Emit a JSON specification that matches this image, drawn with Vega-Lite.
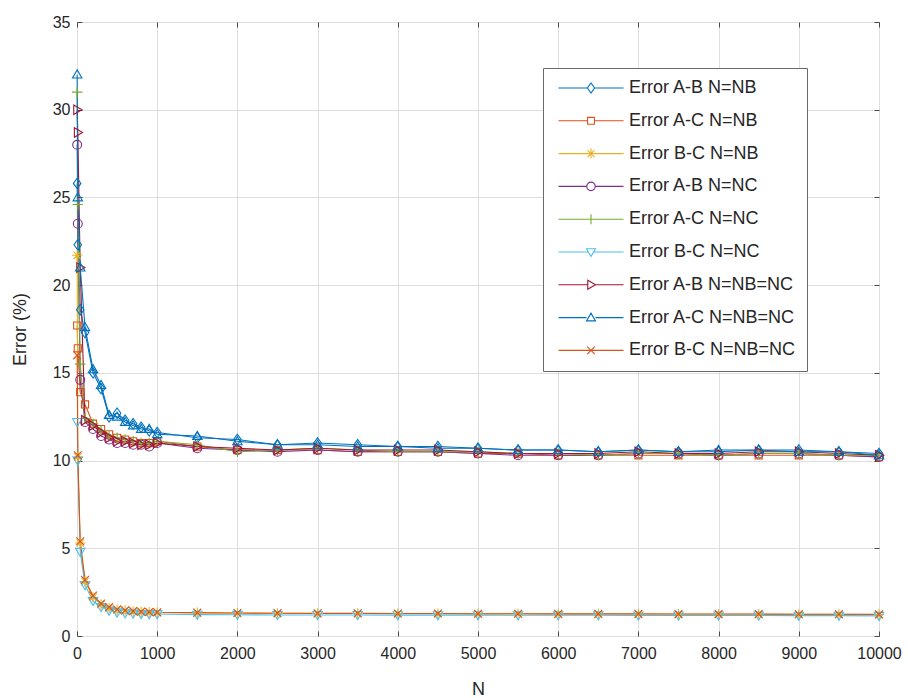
{
"$schema": "https://vega.github.io/schema/vega-lite/v6.json",
"width": 802, "height": 614,
"autosize": {"type": "none"},
"padding": {"left": 77, "top": 22, "right": 29, "bottom": 62},
"background": "white",
"config": {
  "font": "Liberation Sans",
  "view": {"stroke": "#6a6a6a", "strokeWidth": 1},
  "axis": {"domain": false, "tickColor": "#4a4a4a", "tickWidth": 1, "tickSize": -5, "labelColor": "#262626", "labelFontSize": 16, "titleColor": "#262626", "titleFontSize": 18, "titleFontWeight": "normal", "gridColor": "#dedede", "labelFlush": false, "labelOverlap": false},
  "legend": {"labelFont": "Liberation Sans"}
},
"data": {"values": [
{"series":"Error A-B N=NB","N":2,"error":25.8},{"series":"Error A-B N=NB","N":10,"error":22.3},{"series":"Error A-B N=NB","N":40,"error":18.6},{"series":"Error A-B N=NB","N":100,"error":17.3},{"series":"Error A-B N=NB","N":200,"error":15.0},{"series":"Error A-B N=NB","N":300,"error":14.1},{"series":"Error A-B N=NB","N":400,"error":12.5},{"series":"Error A-B N=NB","N":500,"error":12.7},{"series":"Error A-B N=NB","N":600,"error":12.3},{"series":"Error A-B N=NB","N":700,"error":12.1},{"series":"Error A-B N=NB","N":800,"error":11.9},{"series":"Error A-B N=NB","N":900,"error":11.7},{"series":"Error A-B N=NB","N":1000,"error":11.6},{"series":"Error A-B N=NB","N":1500,"error":11.3},{"series":"Error A-B N=NB","N":2000,"error":11.2},{"series":"Error A-B N=NB","N":2500,"error":10.9},{"series":"Error A-B N=NB","N":3000,"error":11.0},{"series":"Error A-B N=NB","N":3500,"error":10.9},{"series":"Error A-B N=NB","N":4000,"error":10.8},{"series":"Error A-B N=NB","N":4500,"error":10.8},{"series":"Error A-B N=NB","N":5000,"error":10.7},{"series":"Error A-B N=NB","N":5500,"error":10.6},{"series":"Error A-B N=NB","N":6000,"error":10.6},{"series":"Error A-B N=NB","N":6500,"error":10.5},{"series":"Error A-B N=NB","N":7000,"error":10.6},{"series":"Error A-B N=NB","N":7500,"error":10.5},{"series":"Error A-B N=NB","N":8000,"error":10.5},{"series":"Error A-B N=NB","N":8500,"error":10.6},{"series":"Error A-B N=NB","N":9000,"error":10.6},{"series":"Error A-B N=NB","N":9500,"error":10.5},{"series":"Error A-B N=NB","N":10000,"error":10.4},
{"series":"Error A-C N=NB","N":2,"error":17.7},{"series":"Error A-C N=NB","N":10,"error":16.4},{"series":"Error A-C N=NB","N":40,"error":13.9},{"series":"Error A-C N=NB","N":100,"error":13.2},{"series":"Error A-C N=NB","N":200,"error":12.1},{"series":"Error A-C N=NB","N":300,"error":11.8},{"series":"Error A-C N=NB","N":400,"error":11.5},{"series":"Error A-C N=NB","N":500,"error":11.3},{"series":"Error A-C N=NB","N":600,"error":11.2},{"series":"Error A-C N=NB","N":700,"error":11.1},{"series":"Error A-C N=NB","N":800,"error":11.0},{"series":"Error A-C N=NB","N":900,"error":11.0},{"series":"Error A-C N=NB","N":1000,"error":11.1},{"series":"Error A-C N=NB","N":1500,"error":10.8},{"series":"Error A-C N=NB","N":2000,"error":10.6},{"series":"Error A-C N=NB","N":2500,"error":10.6},{"series":"Error A-C N=NB","N":3000,"error":10.6},{"series":"Error A-C N=NB","N":3500,"error":10.5},{"series":"Error A-C N=NB","N":4000,"error":10.5},{"series":"Error A-C N=NB","N":4500,"error":10.5},{"series":"Error A-C N=NB","N":5000,"error":10.4},{"series":"Error A-C N=NB","N":5500,"error":10.4},{"series":"Error A-C N=NB","N":6000,"error":10.3},{"series":"Error A-C N=NB","N":6500,"error":10.3},{"series":"Error A-C N=NB","N":7000,"error":10.3},{"series":"Error A-C N=NB","N":7500,"error":10.3},{"series":"Error A-C N=NB","N":8000,"error":10.3},{"series":"Error A-C N=NB","N":8500,"error":10.3},{"series":"Error A-C N=NB","N":9000,"error":10.3},{"series":"Error A-C N=NB","N":9500,"error":10.3},{"series":"Error A-C N=NB","N":10000,"error":10.2},
{"series":"Error B-C N=NB","N":2,"error":21.7},{"series":"Error B-C N=NB","N":10,"error":10.2},{"series":"Error B-C N=NB","N":40,"error":5.3},{"series":"Error B-C N=NB","N":100,"error":3.1},{"series":"Error B-C N=NB","N":200,"error":2.2},{"series":"Error B-C N=NB","N":300,"error":1.8},{"series":"Error B-C N=NB","N":400,"error":1.6},{"series":"Error B-C N=NB","N":500,"error":1.5},{"series":"Error B-C N=NB","N":600,"error":1.45},{"series":"Error B-C N=NB","N":700,"error":1.4},{"series":"Error B-C N=NB","N":800,"error":1.38},{"series":"Error B-C N=NB","N":900,"error":1.36},{"series":"Error B-C N=NB","N":1000,"error":1.34},{"series":"Error B-C N=NB","N":1500,"error":1.32},{"series":"Error B-C N=NB","N":2000,"error":1.3},{"series":"Error B-C N=NB","N":2500,"error":1.29},{"series":"Error B-C N=NB","N":3000,"error":1.28},{"series":"Error B-C N=NB","N":3500,"error":1.28},{"series":"Error B-C N=NB","N":4000,"error":1.27},{"series":"Error B-C N=NB","N":4500,"error":1.27},{"series":"Error B-C N=NB","N":5000,"error":1.26},{"series":"Error B-C N=NB","N":5500,"error":1.26},{"series":"Error B-C N=NB","N":6000,"error":1.25},{"series":"Error B-C N=NB","N":6500,"error":1.25},{"series":"Error B-C N=NB","N":7000,"error":1.25},{"series":"Error B-C N=NB","N":7500,"error":1.24},{"series":"Error B-C N=NB","N":8000,"error":1.24},{"series":"Error B-C N=NB","N":8500,"error":1.24},{"series":"Error B-C N=NB","N":9000,"error":1.23},{"series":"Error B-C N=NB","N":9500,"error":1.23},{"series":"Error B-C N=NB","N":10000,"error":1.22},
{"series":"Error A-B N=NC","N":2,"error":28.0},{"series":"Error A-B N=NC","N":10,"error":23.5},{"series":"Error A-B N=NC","N":40,"error":14.6},{"series":"Error A-B N=NC","N":100,"error":12.2},{"series":"Error A-B N=NC","N":200,"error":11.8},{"series":"Error A-B N=NC","N":300,"error":11.4},{"series":"Error A-B N=NC","N":400,"error":11.2},{"series":"Error A-B N=NC","N":500,"error":11.0},{"series":"Error A-B N=NC","N":600,"error":11.0},{"series":"Error A-B N=NC","N":700,"error":10.9},{"series":"Error A-B N=NC","N":800,"error":10.9},{"series":"Error A-B N=NC","N":900,"error":10.8},{"series":"Error A-B N=NC","N":1000,"error":11.0},{"series":"Error A-B N=NC","N":1500,"error":10.7},{"series":"Error A-B N=NC","N":2000,"error":10.6},{"series":"Error A-B N=NC","N":2500,"error":10.5},{"series":"Error A-B N=NC","N":3000,"error":10.6},{"series":"Error A-B N=NC","N":3500,"error":10.5},{"series":"Error A-B N=NC","N":4000,"error":10.5},{"series":"Error A-B N=NC","N":4500,"error":10.5},{"series":"Error A-B N=NC","N":5000,"error":10.4},{"series":"Error A-B N=NC","N":5500,"error":10.3},{"series":"Error A-B N=NC","N":6000,"error":10.3},{"series":"Error A-B N=NC","N":6500,"error":10.3},{"series":"Error A-B N=NC","N":7000,"error":10.4},{"series":"Error A-B N=NC","N":7500,"error":10.4},{"series":"Error A-B N=NC","N":8000,"error":10.3},{"series":"Error A-B N=NC","N":8500,"error":10.4},{"series":"Error A-B N=NC","N":9000,"error":10.4},{"series":"Error A-B N=NC","N":9500,"error":10.3},{"series":"Error A-B N=NC","N":10000,"error":10.2},
{"series":"Error A-C N=NC","N":2,"error":31.0},{"series":"Error A-C N=NC","N":10,"error":24.6},{"series":"Error A-C N=NC","N":40,"error":15.5},{"series":"Error A-C N=NC","N":100,"error":12.4},{"series":"Error A-C N=NC","N":200,"error":12.1},{"series":"Error A-C N=NC","N":300,"error":11.7},{"series":"Error A-C N=NC","N":400,"error":11.4},{"series":"Error A-C N=NC","N":500,"error":11.3},{"series":"Error A-C N=NC","N":600,"error":11.2},{"series":"Error A-C N=NC","N":700,"error":11.1},{"series":"Error A-C N=NC","N":800,"error":11.0},{"series":"Error A-C N=NC","N":900,"error":11.0},{"series":"Error A-C N=NC","N":1000,"error":11.1},{"series":"Error A-C N=NC","N":1500,"error":10.9},{"series":"Error A-C N=NC","N":2000,"error":10.5},{"series":"Error A-C N=NC","N":2500,"error":10.6},{"series":"Error A-C N=NC","N":3000,"error":10.7},{"series":"Error A-C N=NC","N":3500,"error":10.6},{"series":"Error A-C N=NC","N":4000,"error":10.5},{"series":"Error A-C N=NC","N":4500,"error":10.5},{"series":"Error A-C N=NC","N":5000,"error":10.5},{"series":"Error A-C N=NC","N":5500,"error":10.4},{"series":"Error A-C N=NC","N":6000,"error":10.4},{"series":"Error A-C N=NC","N":6500,"error":10.3},{"series":"Error A-C N=NC","N":7000,"error":10.4},{"series":"Error A-C N=NC","N":7500,"error":10.4},{"series":"Error A-C N=NC","N":8000,"error":10.3},{"series":"Error A-C N=NC","N":8500,"error":10.4},{"series":"Error A-C N=NC","N":9000,"error":10.4},{"series":"Error A-C N=NC","N":9500,"error":10.3},{"series":"Error A-C N=NC","N":10000,"error":10.3},
{"series":"Error B-C N=NC","N":2,"error":12.2},{"series":"Error B-C N=NC","N":10,"error":10.0},{"series":"Error B-C N=NC","N":40,"error":4.8},{"series":"Error B-C N=NC","N":100,"error":2.9},{"series":"Error B-C N=NC","N":200,"error":2.0},{"series":"Error B-C N=NC","N":300,"error":1.65},{"series":"Error B-C N=NC","N":400,"error":1.45},{"series":"Error B-C N=NC","N":500,"error":1.35},{"series":"Error B-C N=NC","N":600,"error":1.3},{"series":"Error B-C N=NC","N":700,"error":1.28},{"series":"Error B-C N=NC","N":800,"error":1.26},{"series":"Error B-C N=NC","N":900,"error":1.25},{"series":"Error B-C N=NC","N":1000,"error":1.25},{"series":"Error B-C N=NC","N":1500,"error":1.22},{"series":"Error B-C N=NC","N":2000,"error":1.21},{"series":"Error B-C N=NC","N":2500,"error":1.2},{"series":"Error B-C N=NC","N":3000,"error":1.2},{"series":"Error B-C N=NC","N":3500,"error":1.2},{"series":"Error B-C N=NC","N":4000,"error":1.19},{"series":"Error B-C N=NC","N":4500,"error":1.19},{"series":"Error B-C N=NC","N":5000,"error":1.19},{"series":"Error B-C N=NC","N":5500,"error":1.18},{"series":"Error B-C N=NC","N":6000,"error":1.18},{"series":"Error B-C N=NC","N":6500,"error":1.18},{"series":"Error B-C N=NC","N":7000,"error":1.17},{"series":"Error B-C N=NC","N":7500,"error":1.17},{"series":"Error B-C N=NC","N":8000,"error":1.17},{"series":"Error B-C N=NC","N":8500,"error":1.17},{"series":"Error B-C N=NC","N":9000,"error":1.16},{"series":"Error B-C N=NC","N":9500,"error":1.16},{"series":"Error B-C N=NC","N":10000,"error":1.15},
{"series":"Error A-B N=NB=NC","N":2,"error":30.0},{"series":"Error A-B N=NB=NC","N":10,"error":28.7},{"series":"Error A-B N=NB=NC","N":40,"error":21.0},{"series":"Error A-B N=NB=NC","N":100,"error":12.3},{"series":"Error A-B N=NB=NC","N":200,"error":12.0},{"series":"Error A-B N=NB=NC","N":300,"error":11.6},{"series":"Error A-B N=NB=NC","N":400,"error":11.3},{"series":"Error A-B N=NB=NC","N":500,"error":11.1},{"series":"Error A-B N=NB=NC","N":600,"error":11.1},{"series":"Error A-B N=NB=NC","N":700,"error":11.0},{"series":"Error A-B N=NB=NC","N":800,"error":10.9},{"series":"Error A-B N=NB=NC","N":900,"error":10.9},{"series":"Error A-B N=NB=NC","N":1000,"error":11.0},{"series":"Error A-B N=NB=NC","N":1500,"error":10.8},{"series":"Error A-B N=NB=NC","N":2000,"error":10.7},{"series":"Error A-B N=NB=NC","N":2500,"error":10.6},{"series":"Error A-B N=NB=NC","N":3000,"error":10.7},{"series":"Error A-B N=NB=NC","N":3500,"error":10.6},{"series":"Error A-B N=NB=NC","N":4000,"error":10.6},{"series":"Error A-B N=NB=NC","N":4500,"error":10.6},{"series":"Error A-B N=NB=NC","N":5000,"error":10.5},{"series":"Error A-B N=NB=NC","N":5500,"error":10.4},{"series":"Error A-B N=NB=NC","N":6000,"error":10.4},{"series":"Error A-B N=NB=NC","N":6500,"error":10.4},{"series":"Error A-B N=NB=NC","N":7000,"error":10.5},{"series":"Error A-B N=NB=NC","N":7500,"error":10.4},{"series":"Error A-B N=NB=NC","N":8000,"error":10.4},{"series":"Error A-B N=NB=NC","N":8500,"error":10.5},{"series":"Error A-B N=NB=NC","N":9000,"error":10.5},{"series":"Error A-B N=NB=NC","N":9500,"error":10.4},{"series":"Error A-B N=NB=NC","N":10000,"error":10.3},
{"series":"Error A-C N=NB=NC","N":2,"error":32.0},{"series":"Error A-C N=NB=NC","N":10,"error":25.0},{"series":"Error A-C N=NB=NC","N":40,"error":21.0},{"series":"Error A-C N=NB=NC","N":100,"error":17.6},{"series":"Error A-C N=NB=NC","N":200,"error":15.2},{"series":"Error A-C N=NB=NC","N":300,"error":14.3},{"series":"Error A-C N=NB=NC","N":400,"error":12.6},{"series":"Error A-C N=NB=NC","N":500,"error":12.5},{"series":"Error A-C N=NB=NC","N":600,"error":12.2},{"series":"Error A-C N=NB=NC","N":700,"error":12.0},{"series":"Error A-C N=NB=NC","N":800,"error":11.8},{"series":"Error A-C N=NB=NC","N":900,"error":11.8},{"series":"Error A-C N=NB=NC","N":1000,"error":11.5},{"series":"Error A-C N=NB=NC","N":1500,"error":11.4},{"series":"Error A-C N=NB=NC","N":2000,"error":11.1},{"series":"Error A-C N=NB=NC","N":2500,"error":10.9},{"series":"Error A-C N=NB=NC","N":3000,"error":10.9},{"series":"Error A-C N=NB=NC","N":3500,"error":10.8},{"series":"Error A-C N=NB=NC","N":4000,"error":10.8},{"series":"Error A-C N=NB=NC","N":4500,"error":10.7},{"series":"Error A-C N=NB=NC","N":5000,"error":10.7},{"series":"Error A-C N=NB=NC","N":5500,"error":10.6},{"series":"Error A-C N=NB=NC","N":6000,"error":10.6},{"series":"Error A-C N=NB=NC","N":6500,"error":10.5},{"series":"Error A-C N=NB=NC","N":7000,"error":10.6},{"series":"Error A-C N=NB=NC","N":7500,"error":10.5},{"series":"Error A-C N=NB=NC","N":8000,"error":10.6},{"series":"Error A-C N=NB=NC","N":8500,"error":10.6},{"series":"Error A-C N=NB=NC","N":9000,"error":10.5},{"series":"Error A-C N=NB=NC","N":9500,"error":10.5},{"series":"Error A-C N=NB=NC","N":10000,"error":10.3},
{"series":"Error B-C N=NB=NC","N":2,"error":16.0},{"series":"Error B-C N=NB=NC","N":10,"error":10.3},{"series":"Error B-C N=NB=NC","N":40,"error":5.4},{"series":"Error B-C N=NB=NC","N":100,"error":3.2},{"series":"Error B-C N=NB=NC","N":200,"error":2.3},{"series":"Error B-C N=NB=NC","N":300,"error":1.85},{"series":"Error B-C N=NB=NC","N":400,"error":1.65},{"series":"Error B-C N=NB=NC","N":500,"error":1.52},{"series":"Error B-C N=NB=NC","N":600,"error":1.46},{"series":"Error B-C N=NB=NC","N":700,"error":1.42},{"series":"Error B-C N=NB=NC","N":800,"error":1.39},{"series":"Error B-C N=NB=NC","N":900,"error":1.37},{"series":"Error B-C N=NB=NC","N":1000,"error":1.35},{"series":"Error B-C N=NB=NC","N":1500,"error":1.33},{"series":"Error B-C N=NB=NC","N":2000,"error":1.31},{"series":"Error B-C N=NB=NC","N":2500,"error":1.3},{"series":"Error B-C N=NB=NC","N":3000,"error":1.29},{"series":"Error B-C N=NB=NC","N":3500,"error":1.29},{"series":"Error B-C N=NB=NC","N":4000,"error":1.28},{"series":"Error B-C N=NB=NC","N":4500,"error":1.28},{"series":"Error B-C N=NB=NC","N":5000,"error":1.27},{"series":"Error B-C N=NB=NC","N":5500,"error":1.27},{"series":"Error B-C N=NB=NC","N":6000,"error":1.26},{"series":"Error B-C N=NB=NC","N":6500,"error":1.26},{"series":"Error B-C N=NB=NC","N":7000,"error":1.26},{"series":"Error B-C N=NB=NC","N":7500,"error":1.25},{"series":"Error B-C N=NB=NC","N":8000,"error":1.25},{"series":"Error B-C N=NB=NC","N":8500,"error":1.25},{"series":"Error B-C N=NB=NC","N":9000,"error":1.24},{"series":"Error B-C N=NB=NC","N":9500,"error":1.24},{"series":"Error B-C N=NB=NC","N":10000,"error":1.23}
]},
"layer": [
  {
    "mark": {"type": "line", "strokeWidth": 1.1},
    "encoding": {
      "x": {"field": "N", "type": "quantitative", "scale": {"domain": [0, 10000], "nice": false, "zero": false},
            "axis": {"orient": "bottom", "values": [0,1000,2000,3000,4000,5000,6000,7000,8000,9000,10000], "format": "d", "grid": true, "labelPadding": 14, "title": "N", "titlePadding": 19}},
      "y": {"field": "error", "type": "quantitative", "scale": {"domain": [0, 35], "nice": false},
            "axis": {"orient": "left", "values": [0,5,10,15,20,25,30,35], "format": "d", "grid": true, "labelPadding": 12, "title": "Error (%)", "titlePadding": 23}},
      "color": {"field": "series", "type": "nominal",
        "scale": {"domain": ["Error A-B N=NB","Error A-C N=NB","Error B-C N=NB","Error A-B N=NC","Error A-C N=NC","Error B-C N=NC","Error A-B N=NB=NC","Error A-C N=NB=NC","Error B-C N=NB=NC"],
                  "range": ["#0072BD","#D95319","#EDB120","#7E2F8E","#77AC30","#4DBEEE","#A2142F","#0072BD","#D95319"]},
        "legend": null}
    }
  },
  {
    "mark": {"type": "point", "filled": false, "strokeWidth": 1.1, "size": 110, "opacity": 1},
    "encoding": {
      "x": {"field": "N", "type": "quantitative", "axis": null},
      "y": {"field": "error", "type": "quantitative", "axis": null},
      "color": {"field": "series", "type": "nominal",
        "scale": {"domain": ["Error A-B N=NB","Error A-C N=NB","Error B-C N=NB","Error A-B N=NC","Error A-C N=NC","Error B-C N=NC","Error A-B N=NB=NC","Error A-C N=NB=NC","Error B-C N=NB=NC"],
                  "range": ["#0072BD","#D95319","#EDB120","#7E2F8E","#77AC30","#4DBEEE","#A2142F","#0072BD","#D95319"]},
        "legend": null},
      "shape": {"field": "series", "type": "nominal",
        "scale": {"domain": ["Error A-B N=NB","Error A-C N=NB","Error B-C N=NB","Error A-B N=NC","Error A-C N=NC","Error B-C N=NC","Error A-B N=NB=NC","Error A-C N=NB=NC","Error B-C N=NB=NC"],
                  "range": ["M0,-1L0.72,0L0,1L-0.72,0Z","M-0.68,-0.68L0.68,-0.68L0.68,0.68L-0.68,0.68Z","M-1,0L1,0M0,-1L0,1M-0.7,-0.7L0.7,0.7M-0.7,0.7L0.7,-0.7","M-0.85,0A0.85,0.85,0,1,0,0.85,0A0.85,0.85,0,1,0,-0.85,0Z","M-1,0L1,0M0,-1L0,1","M-0.9,-0.65L0.9,-0.65L0,0.9Z","M-0.65,-0.9L0.9,0L-0.65,0.9Z","M-0.9,0.65L0.9,0.65L0,-0.9Z","M-0.75,-0.75L0.75,0.75M-0.75,0.75L0.75,-0.75"]},
        "legend": null}
    }
  },
  {
    "transform": [{"filter": "false"}],
    "mark": {"type": "point", "filled": false, "strokeWidth": 1.1, "size": 100, "opacity": 1},
    "encoding": {
      "x": {"field": "N", "type": "quantitative",
            "axis": {"orient": "top", "values": [0,1000,2000,3000,4000,5000,6000,7000,8000,9000,10000], "labels": false, "grid": false, "title": null}},
      "y": {"field": "error", "type": "quantitative",
            "axis": {"orient": "right", "values": [0,5,10,15,20,25,30,35], "labels": false, "grid": false, "title": null}},
      "color": {"field": "series", "type": "nominal",
        "scale": {"domain": ["Error A-B N=NB","Error A-C N=NB","Error B-C N=NB","Error A-B N=NC","Error A-C N=NC","Error B-C N=NC","Error A-B N=NB=NC","Error A-C N=NB=NC","Error B-C N=NB=NC"],
                  "range": ["#0072BD","#D95319","#EDB120","#7E2F8E","#77AC30","#4DBEEE","#A2142F","#0072BD","#D95319"]},
        "legend": {"title": null, "orient": "none", "legendX": 466, "legendY": 46, "fillColor": "white", "strokeColor": "#6a6a6a", "padding": 11, "symbolSize": 100, "symbolStrokeWidth": 1.1, "symbolOffset": 28, "labelOffset": 29, "labelFontSize": 18, "labelLimit": 400, "labelColor": "#262626", "rowPadding": 14.8}},
      "shape": {"field": "series", "type": "nominal",
        "scale": {"domain": ["Error A-B N=NB","Error A-C N=NB","Error B-C N=NB","Error A-B N=NC","Error A-C N=NC","Error B-C N=NC","Error A-B N=NB=NC","Error A-C N=NB=NC","Error B-C N=NB=NC"],
                  "range": ["M-6.5,0L-0.72,0M0.72,0L6.5,0M0,-1L0.72,0L0,1L-0.72,0Z","M-6.5,0L-0.68,0M0.68,0L6.5,0M-0.68,-0.68L0.68,-0.68L0.68,0.68L-0.68,0.68Z","M-6.5,0L6.5,0M0,-1L0,1M-0.7,-0.7L0.7,0.7M-0.7,0.7L0.7,-0.7","M-6.5,0L-0.85,0M0.85,0L6.5,0M-0.85,0A0.85,0.85,0,1,0,0.85,0A0.85,0.85,0,1,0,-0.85,0Z","M-6.5,0L6.5,0M0,-1L0,1","M-6.5,0L-0.45,0M0.45,0L6.5,0M-0.9,-0.65L0.9,-0.65L0,0.9Z","M-6.5,0L-0.65,0M0.9,0L6.5,0M-0.65,-0.9L0.9,0L-0.65,0.9Z","M-6.5,0L-0.9,0M0.9,0L6.5,0M-0.9,0.65L0.9,0.65L0,-0.9Z","M-6.5,0L6.5,0M-0.75,-0.75L0.75,0.75M-0.75,0.75L0.75,-0.75"]},
        "legend": {"title": null, "orient": "none", "legendX": 466, "legendY": 46, "fillColor": "white", "strokeColor": "#6a6a6a", "padding": 11, "symbolSize": 100, "symbolStrokeWidth": 1.1, "symbolOffset": 28, "labelOffset": 29, "labelFontSize": 18, "labelLimit": 400, "labelColor": "#262626", "rowPadding": 14.8}}
    }
  }
],
"resolve": {"scale": {"color": "independent", "shape": "independent"}}
}
